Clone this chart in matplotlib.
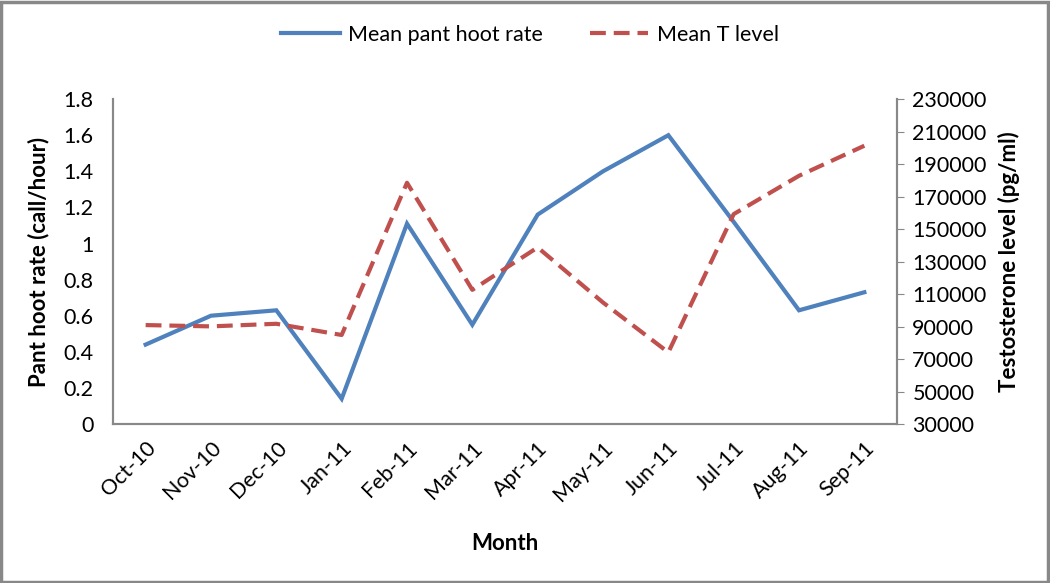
import matplotlib.pyplot as plt
from matplotlib.patches import Rectangle

months = ['Oct-10', 'Nov-10', 'Dec-10', 'Jan-11', 'Feb-11', 'Mar-11',
          'Apr-11', 'May-11', 'Jun-11', 'Jul-11', 'Aug-11', 'Sep-11']
hoot_rate = [0.44, 0.60, 0.63, 0.14, 1.11, 0.55, 1.16, 1.40, 1.60, 1.12, 0.63, 0.73]
t_level = [90900, 90100, 91700, 84800, 178500, 112600, 138700, 104800,
           74100, 159200, 182800, 201300]

plt.rcParams['font.family'] = ['Lato', 'DejaVu Sans']

fig = plt.figure(figsize=(10.5, 5.83), dpi=100)
ax = fig.add_axes([0.1076, 0.2727, 0.7467, 0.5573])
ax2 = ax.twinx()

x = list(range(len(months)))
l1, = ax.plot(x, hoot_rate, color='#4F81BD', lw=3.0, solid_joinstyle='miter',
              label='Mean pant hoot rate')
l2, = ax2.plot(x, t_level, color='#C0504D', lw=3.0, dashes=(3.8, 1.9),
               label='Mean T level')

ax.set_xlim(-0.5, 11.5)
ax.set_ylim(0, 1.8)
ax.set_yticks([i * 0.2 for i in range(10)])
ax.set_yticklabels(['0', '0.2', '0.4', '0.6', '0.8', '1', '1.2', '1.4', '1.6', '1.8'])
ax2.set_ylim(30000, 230000)
ax2.set_yticks(range(30000, 230001, 20000))

ax.set_xticks(x)
ax.set_xticklabels(months, rotation=45, ha='right', rotation_mode='anchor')

for a in (ax, ax2):
    a.spines['top'].set_visible(False)
    for s in ('left', 'right', 'bottom'):
        a.spines[s].set_color('#888888')
        a.spines[s].set_linewidth(1.5)
ax.tick_params(axis='y', length=0, labelsize=15.5, pad=14)
ax.tick_params(axis='x', length=0, labelsize=15.5, pad=10)
ax2.tick_params(axis='y', length=5, color='#888888', labelsize=15.5, pad=6)

ax.set_ylabel('Pant hoot rate (call/hour)', fontsize=16, fontweight='bold', labelpad=10)
ax2.set_ylabel('Testosterone level (pg/ml)', fontsize=16, fontweight='bold', labelpad=8)
ax.set_xlabel('Month', fontsize=16, fontweight='bold', labelpad=20)

fig.legend(handles=[l1, l2], loc='center', bbox_to_anchor=(0.505, 0.94), ncol=2,
           frameon=False, fontsize=15.5, handlelength=2.7, columnspacing=2.2,
           handletextpad=0.4)

fig.patches.append(Rectangle((0.001, 0.002), 0.997, 0.995, transform=fig.transFigure,
                             fill=False, edgecolor='#888888', lw=2.5))

fig.savefig('out.png', dpi=100)
